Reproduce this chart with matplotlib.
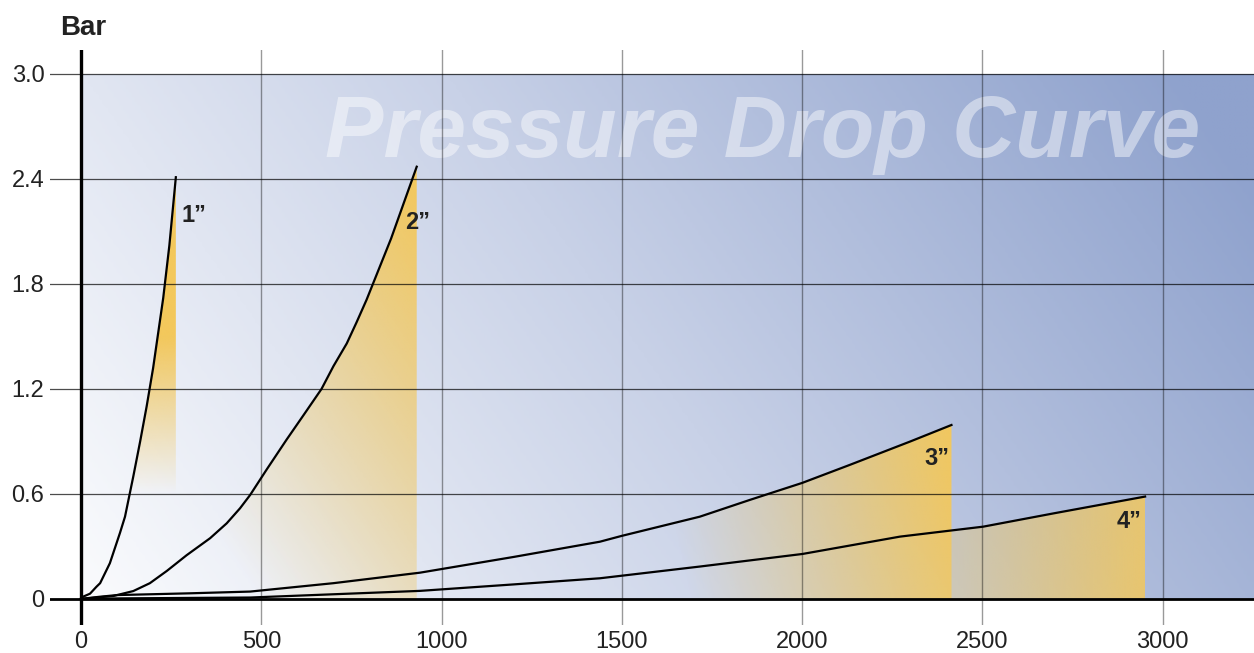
import numpy as np
import matplotlib
matplotlib.use('Agg')
import matplotlib.pyplot as plt
from matplotlib.colors import LinearSegmentedColormap, to_rgb
from matplotlib.patches import Polygon

plt.rcParams['font.family'] = ['Liberation Sans', 'DejaVu Sans']

# flow vs pressure drop (bar) for each size
x_1in = [0, 6, 25, 43, 53, 80, 108, 122, 131, 145, 164, 182, 200, 214, 228, 245, 263]
y_1in = [0, 0.013, 0.03, 0.07, 0.09, 0.204, 0.377, 0.47, 0.56, 0.70, 0.90, 1.10, 1.32,
         1.52, 1.72, 2.02, 2.41]

x_2in = [0, 90, 145, 191, 238, 293, 358, 404, 441, 469, 515, 570, 617, 667, 700, 737, 764,
         792, 860, 931]
y_2in = [0, 0.017, 0.045, 0.09, 0.16, 0.25, 0.347, 0.432, 0.518, 0.594, 0.74, 0.91, 1.05,
         1.20, 1.33, 1.46, 1.58, 1.71, 2.06, 2.47]

x_3in = [0, 50, 100, 300, 469, 700, 940, 1200, 1439, 1499, 1716, 1855, 2000, 2132, 2300, 2414]
y_3in = [0, 0.012, 0.022, 0.032, 0.042, 0.09, 0.15, 0.24, 0.327, 0.36, 0.47, 0.566, 0.663,
         0.766, 0.90, 0.994]

x_4in = [0, 100, 469, 940, 1200, 1439, 1716, 2001, 2271, 2502, 2700, 2951]
y_4in = [0, 0.003, 0.008, 0.046, 0.083, 0.118, 0.185, 0.257, 0.356, 0.413, 0.49, 0.585]

sizes = ['1\u201d', '2\u201d', '3\u201d', '4\u201d']
label_pos = [(280, 2.19), (898, 2.15), (2338, 0.80), (2871, 0.445)]

xticks = [0, 500, 1000, 1500, 2000, 2500, 3000]
yticks = [0, 0.6, 1.2, 1.8, 2.4, 3.0]
ytick_labels = ['0', '0.6', '1.2', '1.8', '2.4', '3.0']

XMIN, XMAX = -86, 3253
YMIN, YMAX = -0.149, 3.137
gold = np.array(to_rgb('#f3c85c'))

fig = plt.figure(figsize=(12.54, 6.53), dpi=100)
ax = fig.add_axes([50 / 1254, 28 / 653, 1204 / 1254, 575 / 653])
ax.set_xlim(XMIN, XMAX)
ax.set_ylim(YMIN, YMAX)
for s in ax.spines.values():
    s.set_visible(False)

# background gradient, light at lower left, blue towards the right
gx, gy = np.meshgrid(np.linspace(0, 1, 400), np.linspace(0, 1, 200))
t = np.clip(0.8 * gx + 0.25 * gy, 0, 1)
bg_cmap = LinearSegmentedColormap.from_list('bg', ['#fafbfd', '#c8d1e7', '#8fa2cd'])
ax.imshow(t, cmap=bg_cmap, vmin=0, vmax=1, origin='lower', aspect='auto',
          extent=[0, XMAX, 0, yticks[-1]], zorder=0, interpolation='bilinear')

ax.text(677, 2.526, 'Pressure Drop Curve', fontsize=63, fontweight='bold',
        fontstyle='italic', color='white', alpha=0.45, ha='left', va='baseline', zorder=1)


def gold_fill(xs, ys, alpha_fn, x0=0, close_x=None):
    xs = np.asarray(xs, float)
    ys = np.asarray(ys, float)
    if close_x is None:
        verts = list(zip(xs, ys)) + [(xs[-1], 0), (xs[0], 0)]
    else:
        verts = list(zip(xs, ys)) + [(close_x, ys[-1]), (close_x, ys[0])]
    poly = Polygon(verts, closed=True, facecolor='none', edgecolor='none')
    ax.add_patch(poly)
    ex = [x0, xs[-1], 0, ys.max()]
    px, py = np.meshgrid(np.linspace(ex[0], ex[1], 300), np.linspace(ex[2], ex[3], 300))
    a = np.clip(alpha_fn(px, py), 0, 1)
    rgba = np.zeros(px.shape + (4,))
    rgba[..., :3] = gold
    rgba[..., 3] = a
    im = ax.imshow(rgba, origin='lower', aspect='auto', extent=ex, zorder=2,
                   interpolation='bilinear')
    im.set_clip_path(poly)


gold_fill(x_1in, y_1in, lambda x, y: (y - 0.6) / 0.9, close_x=x_1in[-1])
gold_fill(x_2in, y_2in, lambda x, y: 0.000815 * (x - 500) + 0.271 * y)
gold_fill(x_3in, y_3in, lambda x, y: 0.85 * ((x - 1690) / 720 + 0.15 * y))
gold_fill(x_4in, y_4in, lambda x, y: 0.3 + 0.55 * (x - 2414) / 537, x0=x_3in[-1])

# grid
for yv in yticks[1:]:
    ax.plot([XMIN, XMAX], [yv, yv], color='black', alpha=0.7, lw=0.9, zorder=3)
for xv in xticks[1:]:
    ax.plot([xv, xv], [YMIN, YMAX], color='black', alpha=0.4, lw=1.0, zorder=3)

# axes lines
ax.plot([XMIN, XMAX], [0, 0], color='black', lw=2.0, zorder=5)
ax.plot([0, 0], [YMIN, YMAX], color='black', lw=2.4, zorder=5)

for xs, ys in [(x_1in, y_1in), (x_2in, y_2in), (x_3in, y_3in), (x_4in, y_4in)]:
    ax.plot(xs, ys, color='black', lw=1.6, zorder=4, solid_joinstyle='round')

for lab, (lx, ly) in zip(sizes, label_pos):
    ax.text(lx, ly, lab, fontsize=17, fontweight='bold', color='#222222',
            ha='left', va='center', zorder=6)

ax.set_xticks(xticks)
ax.set_xticklabels([str(v) for v in xticks])
ax.set_yticks(yticks)
ax.set_yticklabels(ytick_labels)
ax.tick_params(length=0, labelsize=17, labelcolor='#222222')
ax.tick_params(axis='y', pad=4)
ax.tick_params(axis='x', pad=4)

fig.text(60 / 1254, 1 - 35 / 653, 'Bar', fontsize=20, fontweight='bold',
         color='#222222', ha='left', va='baseline')

fig.savefig('out.png', dpi=100)
